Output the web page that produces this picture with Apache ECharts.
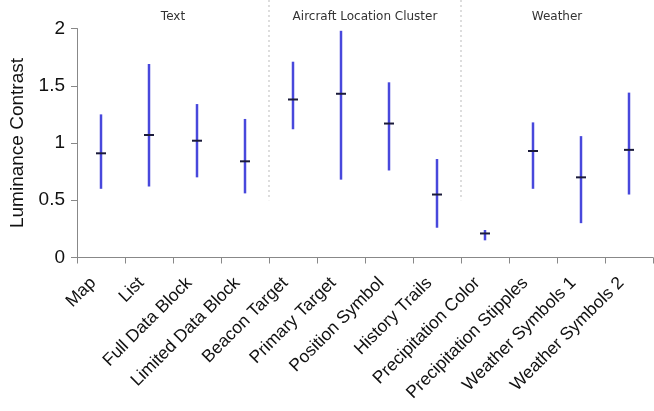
<!DOCTYPE html>
<html lang="en">
<head>
<meta charset="UTF-8">
<script src="https://cdn.jsdelivr.net/npm/echarts@6/dist/echarts.min.js"></script>
<title>Luminance Contrast</title>
</head>
<body style="margin:0">
<div id="chart" style="width:654px;height:411px;"></div>
<script type="text/javascript">
// categories and the interval for each one
var categories = ['Map', 'List', 'Full Data Block', 'Limited Data Block', 'Beacon Target', 'Primary Target',
    'Position Symbol', 'History Trails', 'Precipitation Color', 'Precipitation Stipples', 'Weather Symbols 1', 'Weather Symbols 2'];
var lows  = [0.60, 0.62, 0.70, 0.56, 1.12, 0.68, 0.76, 0.26, 0.15, 0.60, 0.30, 0.55];
var means = [0.91, 1.07, 1.02, 0.84, 1.38, 1.43, 1.17, 0.55, 0.21, 0.93, 0.70, 0.94];
var highs = [1.25, 1.69, 1.34, 1.21, 1.71, 1.98, 1.53, 0.86, 0.24, 1.18, 1.06, 1.44];
var yTicks = [0, 0.5, 1, 1.5, 2];
// groups: label + first/last category index
var groupNames = ['Text', 'Aircraft Location Cluster', 'Weather'];
var groupStarts = [0, 4, 8];
var groupEnds = [3, 7, 11];

var chart = echarts.init(document.getElementById('chart'));

var gridLeft = 77, gridRight = 1, gridTop = 28.5, gridBottom = 153.5;
var bandW = (654 - gridLeft - gridRight) / categories.length;
var font = '"Liberation Sans", Arial, sans-serif';

var data = [];
for (var i = 0; i < categories.length; i++) {
    data.push([i, lows[i], means[i], highs[i]]);
}

// decorations: group titles and dotted separators
var graphics = [];
for (var g = 0; g < groupNames.length; g++) {
    var cx = gridLeft + bandW * (groupStarts[g] + groupEnds[g] + 1) / 2;
    graphics.push({
        type: 'text', x: cx, y: 17,
        style: { text: groupNames[g], fill: '#333', font: '12px "DejaVu Sans", sans-serif', align: 'center', verticalAlign: 'middle' }
    });
    if (g > 0) {
        var sx = gridLeft + bandW * groupStarts[g];
        graphics.push({
            type: 'line',
            shape: { x1: sx, y1: 0, x2: sx, y2: gridTop + (411 - gridTop - gridBottom) * 0.75 },
            style: { stroke: '#bbb', lineWidth: 1, lineDash: [2, 3] }
        });
    }
}

var option = {
    animation: false,
    grid: { left: gridLeft, right: gridRight, top: gridTop, bottom: gridBottom },
    graphic: graphics,
    xAxis: {
        type: 'category',
        data: categories,
        axisLine: { lineStyle: { color: '#888' } },
        axisTick: { show: true, length: 6, lineStyle: { color: '#888' } },
        axisLabel: {
            rotate: 45, interval: 0, margin: 15, padding: [0, 11, 0, 0],
            color: '#111', fontSize: 17.5, fontFamily: font
        },
        splitLine: { show: false }
    },
    yAxis: {
        type: 'value',
        min: yTicks[0], max: yTicks[yTicks.length - 1], interval: 0.5,
        name: 'Luminance Contrast',
        nameLocation: 'middle', nameRotate: 90, nameGap: 44,
        nameTextStyle: { color: '#111', fontSize: 19, fontFamily: font },
        axisLine: { show: true, lineStyle: { color: '#888' } },
        axisTick: { show: true, length: 6, lineStyle: { color: '#888' } },
        axisLabel: { color: '#111', fontSize: 19, margin: 12, fontFamily: font },
        splitLine: { show: false }
    },
    series: [{
        type: 'custom',
        data: data,
        renderItem: function (params, api) {
            var x = api.value(0);
            var lo = api.coord([x, api.value(1)]);
            var mid = api.coord([x, api.value(2)]);
            var hi = api.coord([x, api.value(3)]);
            return {
                type: 'group',
                children: [{
                    type: 'line',
                    shape: { x1: lo[0], y1: lo[1], x2: hi[0], y2: hi[1] },
                    style: { stroke: '#4848dc', lineWidth: 2.5 }
                }, {
                    type: 'line',
                    shape: { x1: mid[0] - 5, y1: mid[1], x2: mid[0] + 5, y2: mid[1] },
                    style: { stroke: '#1a1a3a', lineWidth: 2 }
                }]
            };
        }
    }]
};
chart.setOption(option);
</script>
</body>
</html>
